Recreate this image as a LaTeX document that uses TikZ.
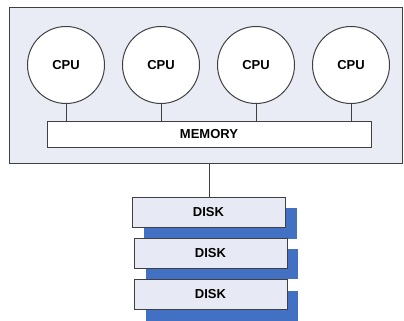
\documentclass[tikz,border=0pt]{standalone}
\usepackage{fontspec}
\setmainfont{Liberation Sans}
\begin{document}
\begin{tikzpicture}[x=1pt,y=-1pt,
  line/.style={draw=black!75,line width=1pt},
  lbl/.style={font=\fontsize{13}{15}\selectfont\bfseries},
  cpu/.style={circle,draw=black!75,line width=1pt,fill=white,minimum size=77pt,inner sep=0pt,lbl},
  membox/.style={rectangle,draw=black!75,line width=1pt,fill=white,minimum width=324pt,minimum height=26pt,inner sep=0pt,lbl},
  diskbox/.style={rectangle,draw=black!75,line width=1pt,fill=diskfill,minimum width=153pt,minimum height=30pt,inner sep=0pt,lbl}
]
\definecolor{outerfill}{HTML}{E9EBF5}
\definecolor{diskfill}{HTML}{E7EAF4}
\definecolor{diskblue}{HTML}{4270C2}
\useasboundingbox (0,0) rectangle (404,321);
\fill[white] (0,0) rectangle (404,321);
% outer box
\draw[draw=black!75,line width=1pt,fill=outerfill] (9,8) rectangle (402,163);
\coordinate (outerbottom) at (209,163);
% memory
\node[membox] (mem) at (209,134) {MEMORY};
% cpus
\node[cpu] (c1) at (66,65) {CPU};
\node[cpu] (c2) at (161,65) {CPU};
\node[cpu] (c3) at (256,65) {CPU};
\node[cpu] (c4) at (351,65) {CPU};
\foreach \c in {c1,c2,c3,c4}{
  \draw[line] (\c.south) -- (\c.south |- mem.north);
}
% disks with shadows
\fill[diskblue] (144,208) rectangle (297,239);
\node[diskbox] (d1) at (208.5,212) {DISK};
\fill[diskblue] (146,249) rectangle (298,279);
\node[diskbox] (d2) at (210.5,253) {DISK};
\fill[diskblue] (146,291) rectangle (298,321);
\node[diskbox] (d3) at (210.5,294) {DISK};
\draw[line] (outerbottom) -- (outerbottom |- d1.north);
\end{tikzpicture}
\end{document}
